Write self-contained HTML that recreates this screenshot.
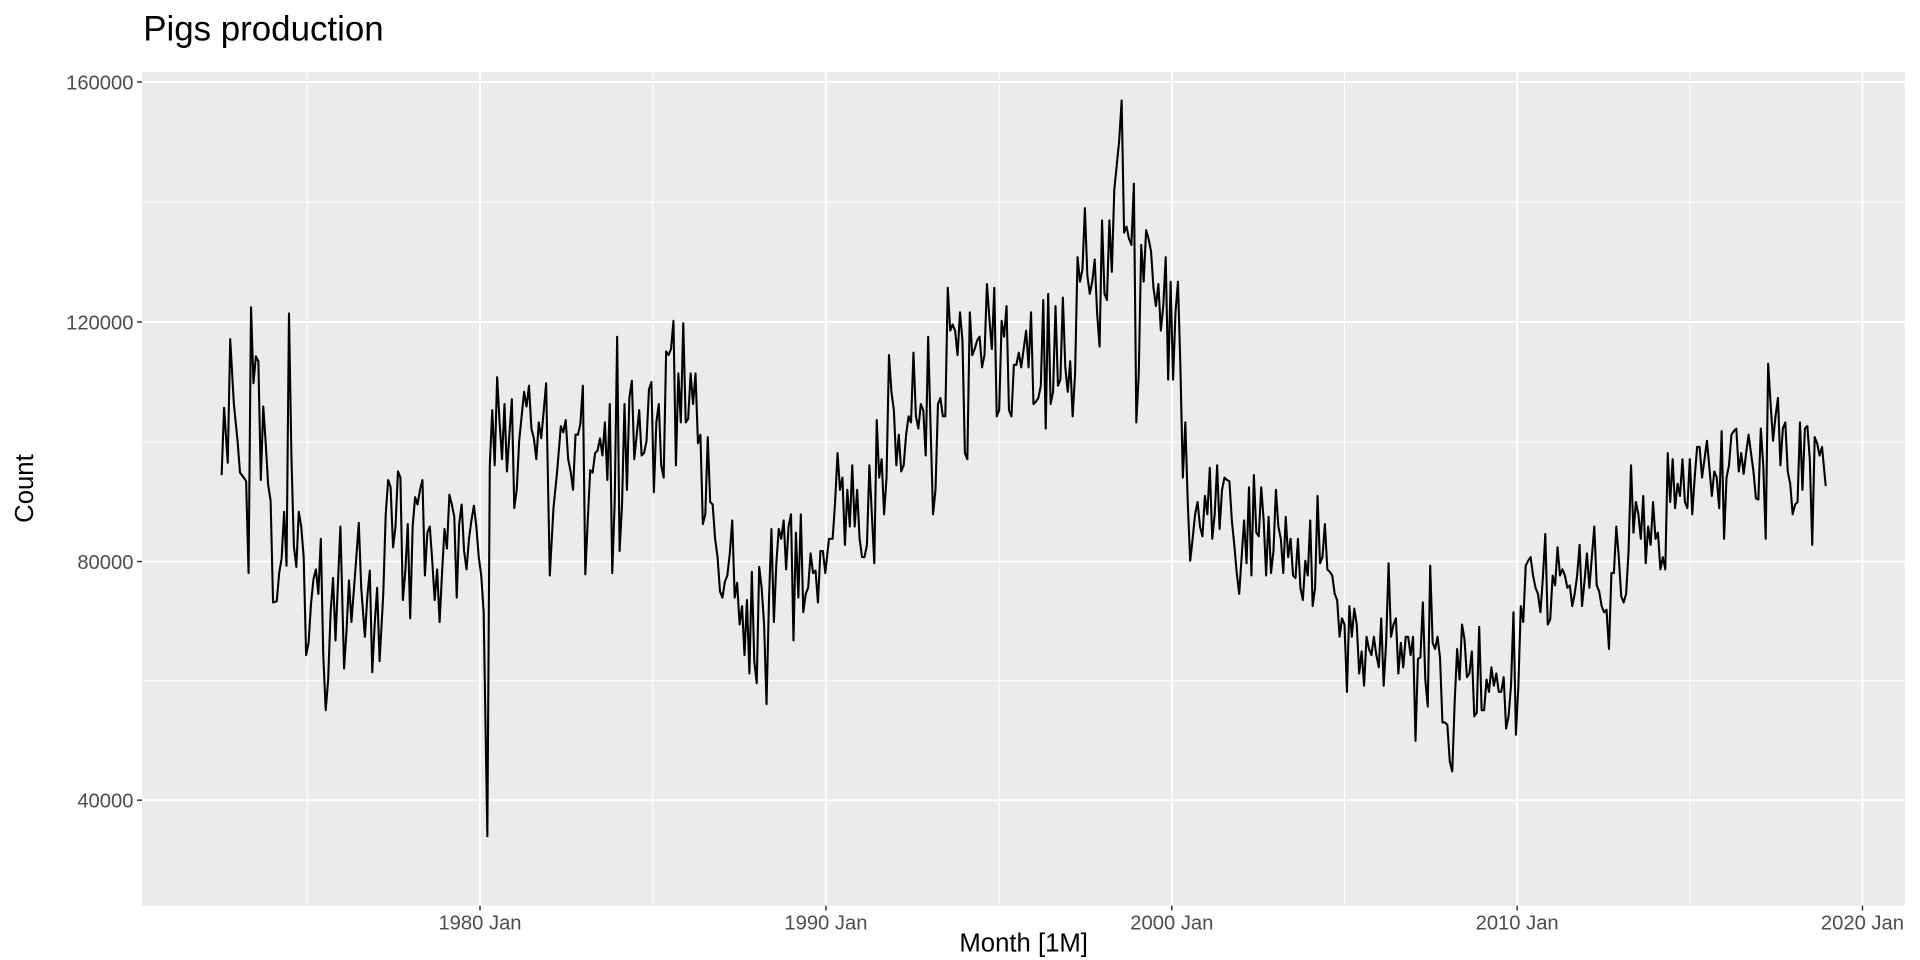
<!DOCTYPE html>
<html><head><meta charset="utf-8"><style>
html,body{margin:0;padding:0;background:#fff;}
svg{display:block;font-family:"Liberation Sans",sans-serif;}
</style></head><body>
<svg width="1920" height="960" viewBox="0 0 1568 784" xmlns="http://www.w3.org/2000/svg">
<rect x="0" y="0" width="1568" height="784" fill="#fff"/>
<text x="117" y="33" font-size="28.5" fill="#000">Pigs production</text>
<rect x="116" y="58.8" width="1439.7" height="680.8" fill="#ebebeb"/>
<g stroke="#fff" stroke-width="0.8">
<line x1="116" x2="1555.7" y1="165" y2="165"/><line x1="116" x2="1555.7" y1="361" y2="361"/><line x1="116" x2="1555.7" y1="556" y2="556"/>
<line y1="58.8" y2="739.6" x1="251" x2="251"/><line y1="58.8" y2="739.6" x1="533" x2="533"/><line y1="58.8" y2="739.6" x1="816" x2="816"/><line y1="58.8" y2="739.6" x1="1098" x2="1098"/><line y1="58.8" y2="739.6" x1="1380" x2="1380"/>
</g>
<g stroke="#fff" stroke-width="1.6">
<line x1="116" x2="1555.7" y1="67" y2="67"/><line x1="116" x2="1555.7" y1="263" y2="263"/><line x1="116" x2="1555.7" y1="458.6" y2="458.6"/><line x1="116" x2="1555.7" y1="653.5" y2="653.5"/>
<line y1="58.8" y2="739.6" x1="392" x2="392"/><line y1="58.8" y2="739.6" x1="674.5" x2="674.5"/><line y1="58.8" y2="739.6" x1="957" x2="957"/><line y1="58.8" y2="739.6" x1="1239" x2="1239"/><line y1="58.8" y2="739.6" x1="1521" x2="1521"/>
</g>
<g stroke="#333" stroke-width="1.2">
<line x1="112" x2="116" y1="67" y2="67"/><line x1="112" x2="116" y1="263" y2="263"/><line x1="112" x2="116" y1="458.6" y2="458.6"/><line x1="112" x2="116" y1="653.5" y2="653.5"/>
<line y1="739.6" y2="743.6" x1="392" x2="392"/><line y1="739.6" y2="743.6" x1="674.5" x2="674.5"/><line y1="739.6" y2="743.6" x1="957" x2="957"/><line y1="739.6" y2="743.6" x1="1239" x2="1239"/><line y1="739.6" y2="743.6" x1="1521" x2="1521"/>
</g>
<g font-size="16.5" fill="#4d4d4d" text-anchor="end">
<text x="109" y="73">160000</text><text x="109" y="269">120000</text><text x="109" y="464.5">80000</text><text x="109" y="659.5">40000</text>
</g>
<g font-size="16.5" fill="#4d4d4d" text-anchor="middle">
<text x="392" y="759">1980 Jan</text><text x="674.5" y="759">1990 Jan</text><text x="957" y="759">2000 Jan</text><text x="1239" y="759">2010 Jan</text><text x="1521" y="759">2020 Jan</text>
</g>
<text x="836" y="777" font-size="21" fill="#000" text-anchor="middle">Month [1M]</text>
<text transform="translate(27,399) rotate(-90)" font-size="21" fill="#000" text-anchor="middle">Count</text>
<polyline fill="none" stroke="#000" stroke-width="1.7" stroke-linejoin="round" points="
181,388 183,333 186,378 188,277 191,330 194,360 196,386 199,390 201,393 203,468 205,251 207,313 209,291 211,295 213,392 215,332 217,362 219,396 221,409 223,492 226,491 228,468 230,456 232,418 234,462 236,256 238,373 240,446 242,463 244,418 246,430 248,455 250,535 252,525 254,493 256,473 258,465 260,485 262,440 264,535 266,580 268,555 270,500 272,472 274,523 276,476 278,430 281,546 283,515 285,474 287,508 289,482 291,455 293,427 295,480 298,520 300,487 302,466 304,549 306,510 308,480 310,540 313,485 315,420 317,392 319,398 321,447 323,430 325,385 327,390 329,490 331,467 333,428 335,505 337,430 339,406 341,412 343,400 345,392 347,470 349,435 351,430 353,458 355,490 357,465 359,508 361,468 363,432 365,448 367,404 369,412 371,422 373,488 375,428 377,412 379,450 381,465 383,440 385,425 387,413 389,430 391,455 393,470 395,500 398,683 400,380 402,335 404,380 406,308 408,345 410,375 412,330 414,385 416,355 418,326 420,415 422,400 424,360 426,340 428,320 430,332 432,315 434,350 436,358 438,375 440,345 442,358 444,336 446,313 449,470 452,415 455,385 458,348 460,353 462,343 464,375 466,385 468,400 470,355 472,355 474,346 476,315 478,469 480,425 482,384 484,386 486,370 488,368 490,358 492,372 494,345 496,392 498,330 500,468 502,410 504,275 506,450 508,412 510,330 512,400 514,325 516,311 518,375 520,355 522,335 524,372 526,370 528,360 530,318 532,312 534,402 536,345 538,330 540,380 542,390 544,287 546,290 548,285 550,262 552,380 554,305 556,345 558,264 560,345 562,342 564,305 566,330 568,305 570,362 572,355 574,428 576,420 578,357 580,410 582,412 584,440 586,455 588,483 590,488 592,475 594,470 596,452 598,425 600,488 602,476 604,510 606,495 608,535 610,490 612,550 614,467 616,540 618,558 620,463 622,480 624,510 626,575 628,490 630,432 632,508 634,460 636,432 638,440 640,425 642,465 644,430 646,420 648,523 650,435 652,488 654,420 656,500 658,485 660,480 662,452 664,468 666,466 668,492 670,450 672,450 674,468 677,440 680,440 682,410 684,370 686,400 688,390 690,445 692,400 694,430 696,380 698,430 700,400 702,440 704,455 706,455 708,445 710,380 712,420 714,460 716,343 718,390 720,375 722,420 724,390 726,290 728,320 730,335 732,380 734,355 736,385 738,380 740,355 742,340 744,345 746,288 748,340 750,350 752,330 754,335 756,372 758,275 760,350 762,420 764,400 766,330 768,325 770,340 772,340 774,235 776,270 778,265 780,270 782,290 784,255 786,278 788,370 790,375 792,255 794,290 796,285 798,278 800,275 802,300 804,290 806,232 808,260 810,285 812,235 814,340 816,335 818,262 820,275 822,250 824,335 826,340 828,298 830,298 832,288 834,300 836,285 838,270 840,300 842,255 844,330 846,328 848,325 850,315 852,245 854,350 856,240 858,330 860,320 862,250 864,315 866,310 868,243 870,300 872,320 874,295 876,340 878,305 880,210 882,230 884,220 886,170 888,225 890,240 892,230 894,212 896,256 898,283 900,180 902,240 904,245 906,180 908,222 910,155 912,135 914,115 916,82 918,190 920,185 922,195 924,200 926,150 928,345 930,305 932,200 934,230 936,188 938,195 940,205 942,235 944,250 946,232 948,270 950,250 952,210 954,310 956,230 958,310 960,255 962,230 964,300 966,390 968,345 970,410 972,458 974,440 976,420 978,410 980,430 982,438 984,405 986,420 988,382 990,440 992,420 994,380 996,432 998,400 1000,390 1002,392 1004,393 1006,425 1008,445 1010,468 1012,485 1014,455 1016,425 1018,460 1020,398 1022,470 1024,388 1026,435 1028,438 1030,398 1032,425 1034,470 1036,422 1038,468 1040,450 1042,400 1044,430 1046,440 1048,468 1050,422 1052,455 1054,440 1056,470 1058,472 1060,440 1062,480 1064,490 1066,458 1068,470 1070,425 1072,495 1074,480 1076,405 1078,460 1080,455 1082,428 1084,465 1086,467 1088,470 1090,485 1092,490 1094,520 1096,505 1098,510 1100,565 1102,495 1104,520 1106,497 1108,510 1110,550 1112,532 1114,560 1116,520 1118,530 1120,535 1122,520 1124,535 1126,545 1128,505 1130,560 1132,525 1134,460 1136,520 1138,510 1140,505 1142,550 1144,525 1146,545 1148,520 1150,520 1152,535 1154,520 1156,605 1158,538 1160,537 1162,492 1164,555 1166,577 1168,462 1170,525 1172,530 1174,520 1176,537 1178,590 1180,590 1182,592 1184,622 1186,630 1188,573 1190,530 1192,555 1194,510 1196,522 1198,553 1200,550 1202,532 1204,585 1206,582 1208,512 1210,580 1212,580 1214,555 1216,565 1218,545 1220,560 1222,550 1224,565 1226,565 1228,553 1230,595 1232,585 1234,560 1236,500 1238,600 1240,560 1242,495 1244,508 1246,462 1248,458 1250,455 1252,470 1254,480 1256,485 1258,500 1260,472 1262,436 1264,510 1266,506 1268,470 1270,478 1272,447 1274,470 1276,465 1278,470 1280,480 1282,478 1284,495 1286,485 1288,470 1290,445 1292,495 1294,475 1296,452 1298,480 1300,455 1302,430 1304,478 1306,483 1308,495 1310,500 1312,498 1314,530 1316,468 1318,468 1320,430 1322,455 1324,487 1326,492 1328,485 1330,450 1332,380 1334,435 1336,410 1338,420 1340,440 1342,405 1344,460 1346,430 1348,445 1350,410 1352,440 1354,435 1356,465 1358,455 1360,465 1362,370 1364,410 1366,375 1368,415 1370,395 1372,405 1374,375 1376,410 1378,415 1380,375 1382,420 1384,390 1386,365 1388,365 1390,390 1392,375 1394,360 1396,382 1398,405 1400,385 1402,390 1404,415 1406,352 1408,440 1410,390 1412,380 1414,355 1416,352 1418,350 1420,385 1422,370 1424,387 1426,370 1428,355 1430,370 1432,385 1434,407 1436,408 1438,350 1440,380 1442,440 1444,297 1446,330 1448,360 1450,340 1452,325 1454,380 1456,350 1458,345 1460,385 1462,395 1464,420 1466,412 1468,410 1470,345 1472,400 1474,350 1476,348 1478,375 1480,445 1482,357 1484,362 1486,372 1488,365 1491,397"/>
</svg>
</body></html>
